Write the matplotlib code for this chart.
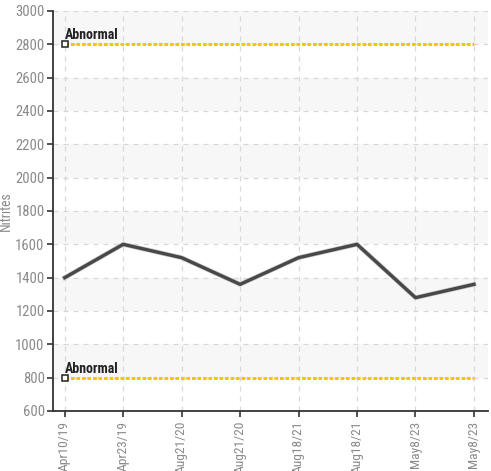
import numpy as np
import matplotlib.pyplot as plt
from matplotlib import font_manager

# Chart data
dates = ["Apr10/19", "Apr23/19", "Aug21/20", "Aug21/20",
         "Aug18/21", "Aug18/21", "May8/23", "May8/23"]
nitrites = [1400, 1600, 1520, 1360, 1520, 1600, 1280, 1360]
abnormal_levels = [2800, 800]
abnormal_label = "Abnormal"


# look for a condensed / narrow face, the reference uses one
def find_face(names, weight):
    for name in names:
        for f in font_manager.fontManager.ttflist:
            if f.name != name or f.style != "normal" or f.weight != weight:
                continue
            if name != "DejaVu Sans" or "condensed" in str(f.stretch).lower():
                return font_manager.FontProperties(fname=f.fname)
    return None


cands = ["Roboto Condensed", "Liberation Sans Narrow", "DejaVu Sans"]
fp = find_face(cands, 400)
fp_bold = find_face(cands, 700)
base_size = 10.5
if fp is None:
    fp = font_manager.FontProperties(family="DejaVu Sans")
    base_size = 8.5
if fp_bold is None:
    fp_bold = fp

fig = plt.figure(figsize=(4.91, 4.71), dpi=100)
ax = fig.add_axes([53 / 491, 60 / 471, 435 / 491, 400 / 471])

x = np.arange(len(dates))
ax.set_xlim(-0.2, len(dates) - 1 + 0.24)
ax.set_ylim(600, 3000)

# alternating bands
for lo in range(800, 3000, 400):
    ax.axhspan(lo, lo + 200, color="#f7f7f7", zorder=0, lw=0)

ax.grid(True, color="#d8d8d8", linestyle=(0, (4, 4)), linewidth=0.9, zorder=1)

# threshold lines
for lvl in abnormal_levels:
    ax.plot([x[0], x[-1]], [lvl, lvl], color="#f7c600", linewidth=2.2,
            linestyle=(0, (1.2, 0.6)), zorder=3)
    ax.plot(x[0], lvl, marker="s", markersize=4, markerfacecolor="white",
            markeredgecolor="#222222", markeredgewidth=1.1, zorder=4)
    ax.annotate(abnormal_label, (x[0], lvl), xytext=(0, 1.5), textcoords="offset points",
                fontproperties=fp_bold, fontsize=base_size - 0.5,
                color="#222222", ha="left", va="bottom")

# main series
ax.plot(x, nitrites, color="#c8c8c8", linewidth=3.4, zorder=4)
ax.plot(x, nitrites, color="#484848", linewidth=2.4, zorder=5)

ax.set_xticks(x)
ax.set_xticklabels(dates, rotation=90, fontproperties=fp, fontsize=base_size - 0.8)
ax.set_yticks(np.arange(600, 3001, 200))
ax.set_yticklabels([str(v) for v in range(600, 3001, 200)], fontproperties=fp, fontsize=base_size)
ax.tick_params(axis="both", colors="#333333", labelcolor="#8a8a8a",
               length=4, width=1.2, direction="out", pad=2)
ax.tick_params(axis="x", pad=3)
ax.set_ylabel("Nitrites", color="#8a8a8a", fontproperties=fp, fontsize=base_size - 0.5, labelpad=2)

for side in ["top", "right"]:
    ax.spines[side].set_visible(False)
for side in ["left", "bottom"]:
    ax.spines[side].set_color("#333333")
    ax.spines[side].set_linewidth(1.3)

fig.savefig("out.png", dpi=100)
